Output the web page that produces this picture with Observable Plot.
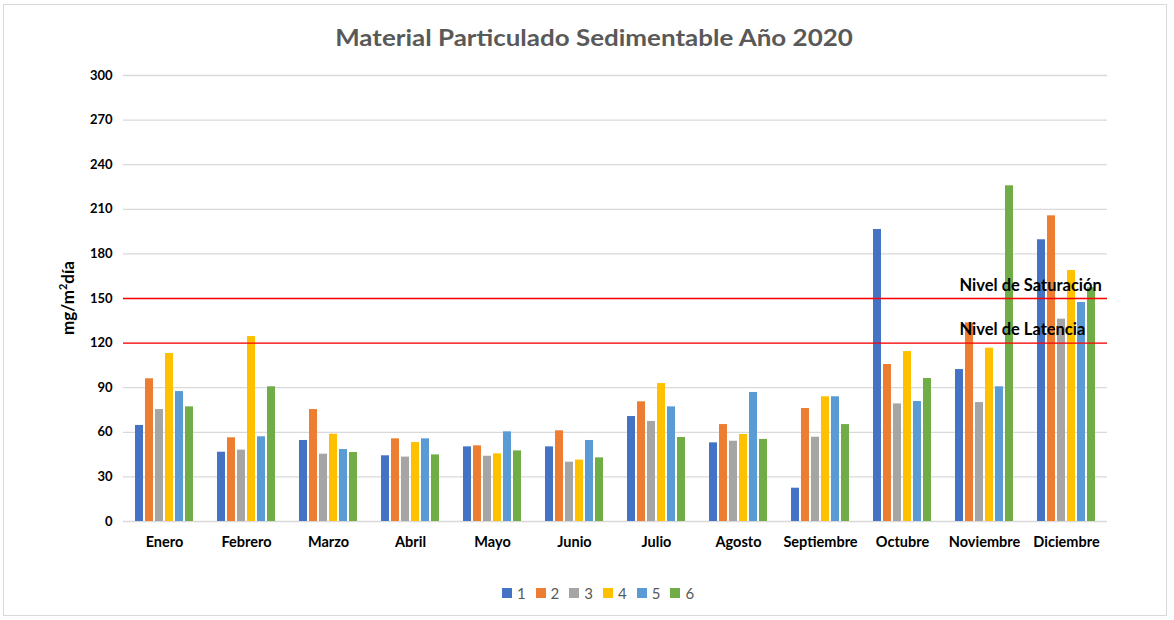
<!DOCTYPE html>
<html>
<head>
<meta charset="utf-8">
<script src="https://cdn.jsdelivr.net/npm/d3@7"></script>
<script src="https://cdn.jsdelivr.net/npm/@observablehq/plot@0.6"></script>
<style>
  body { margin:0; width:1174px; height:620px; position:relative; background:#fff; font-family: Lato, "Open Sans", sans-serif; overflow:hidden; }
  #frame { position:absolute; left:3px; top:4px; width:1164px; height:612px; border:1px solid #d9d9d9; box-sizing:border-box; }
  #title { position:absolute; top:24px; left:19px; width:1150px; text-align:center; font-weight:bold; font-size:22px; line-height:28px; color:#595959; transform: scaleX(1.18); transform-origin: 575px 0; }
  #chart { position:absolute; top:60px; left:0; }
  #ylabel { position:absolute; left:67px; top:298px; transform: translate(-50%,-50%) rotate(-90deg); font-weight:bold; font-size:17px; color:#000; white-space:nowrap; }
  #legend { position:absolute; top:584px; left:0; width:1196px; display:flex; justify-content:center; gap:10px; font-size:15px; color:#595959; }
  .item { display:flex; align-items:center; gap:5px; }
  .sw { width:10px; height:10px; display:inline-block; }
</style>
</head>
<body>
<div id="frame"></div>
<div id="title">Material Particulado Sedimentable Año 2020</div>
<div id="chart"></div>
<div id="ylabel">mg/m<sup style="font-size:11px">2</sup>día</div>
<div id="legend"></div>
<script>
const months = ["Enero","Febrero","Marzo","Abril","Mayo","Junio","Julio","Agosto","Septiembre","Octubre","Noviembre","Diciembre"];
const series = ["1","2","3","4","5","6"];
const colors = ["#4472C4","#ED7D31","#A5A5A5","#FFC000","#5B9BD5","#70AD47"];
const s1 = [64.6, 46.6, 54.5, 44.2, 50.2, 50.2, 70.6, 52.9, 22.4, 196.4, 102.2, 189.5];
const s2 = [96.0, 56.3, 75.3, 55.6, 50.9, 61.0, 80.5, 65.2, 76.0, 105.6, 133.6, 205.6];
const s3 = [75.3, 48.0, 45.3, 43.3, 43.9, 39.9, 67.3, 54.0, 56.7, 79.1, 80.0, 136.1];
const s4 = [113.0, 124.4, 58.7, 53.1, 45.5, 41.3, 92.8, 58.5, 83.9, 114.3, 116.6, 168.8];
const s5 = [87.4, 57.0, 48.4, 55.6, 60.3, 54.5, 77.1, 86.8, 83.9, 80.7, 90.6, 147.3];
const s6 = [77.1, 90.6, 46.4, 44.8, 47.5, 42.8, 56.5, 55.2, 65.2, 96.2, 225.8, 157.2];
const yTicks = [0, 30, 60, 90, 120, 150, 180, 210, 240, 270, 300];
const thresholdLabels = ["Nivel de Saturación", "Nivel de Latencia"];
const thresholdValues = [150, 120];

const seriesValues = [s1, s2, s3, s4, s5, s6];
const data = [];
months.forEach((m, i) => series.forEach((s, j) => data.push({month: m, series: s, value: seriesValues[j][i]})));
const thresholds = thresholdLabels.map((label, i) => ({label, value: thresholdValues[i]}));

const chart = Plot.plot({
  width: 1174,
  height: 500,
  marginTop: 15,
  marginBottom: 39,
  marginLeft: 117,
  marginRight: 62,
  style: {fontFamily: "Lato, 'Open Sans', sans-serif", fontSize: "13px", background: "transparent", color: "#000"},
  fx: {domain: months, paddingInner: 0, paddingOuter: 0, label: null, tickSize: 0, tickPadding: 15},
  x: {domain: series, paddingInner: 0.2, paddingOuter: 0.9, axis: null},
  y: {domain: [0, 300], ticks: yTicks, tickSize: 0, tickPadding: 11, label: null},
  color: {domain: series, range: colors},
  marks: [
    Plot.ruleY(yTicks, {stroke: "#d9d9d9", strokeWidth: 1.3}),
    Plot.barY(data, {fx: "month", x: "series", y: "value", fill: "series"}),
    Plot.ruleY(thresholds, {y: "value", stroke: "#ff0000", strokeWidth: 1.3}),
    Plot.text(thresholds, {fx: () => "Noviembre", x: () => "1", y: "value", text: "label", textAnchor: "start", dy: -13, fontWeight: "bold", fontSize: 16.5, fill: "#000"})
  ]
});
chart.querySelectorAll("g[aria-label='y-axis tick label'], g[aria-label='fx-axis tick label']").forEach(g => g.setAttribute("font-weight", "bold"));
chart.querySelectorAll("g[aria-label='fx-axis tick label']").forEach(g => g.setAttribute("font-size", "14.5"));
document.getElementById("chart").appendChild(chart);

const legend = document.getElementById("legend");
series.forEach((s, i) => {
  const it = document.createElement("div");
  it.className = "item";
  it.innerHTML = `<span class="sw" style="background:${colors[i]}"></span><span>${s}</span>`;
  legend.appendChild(it);
});
</script>
</body>
</html>
